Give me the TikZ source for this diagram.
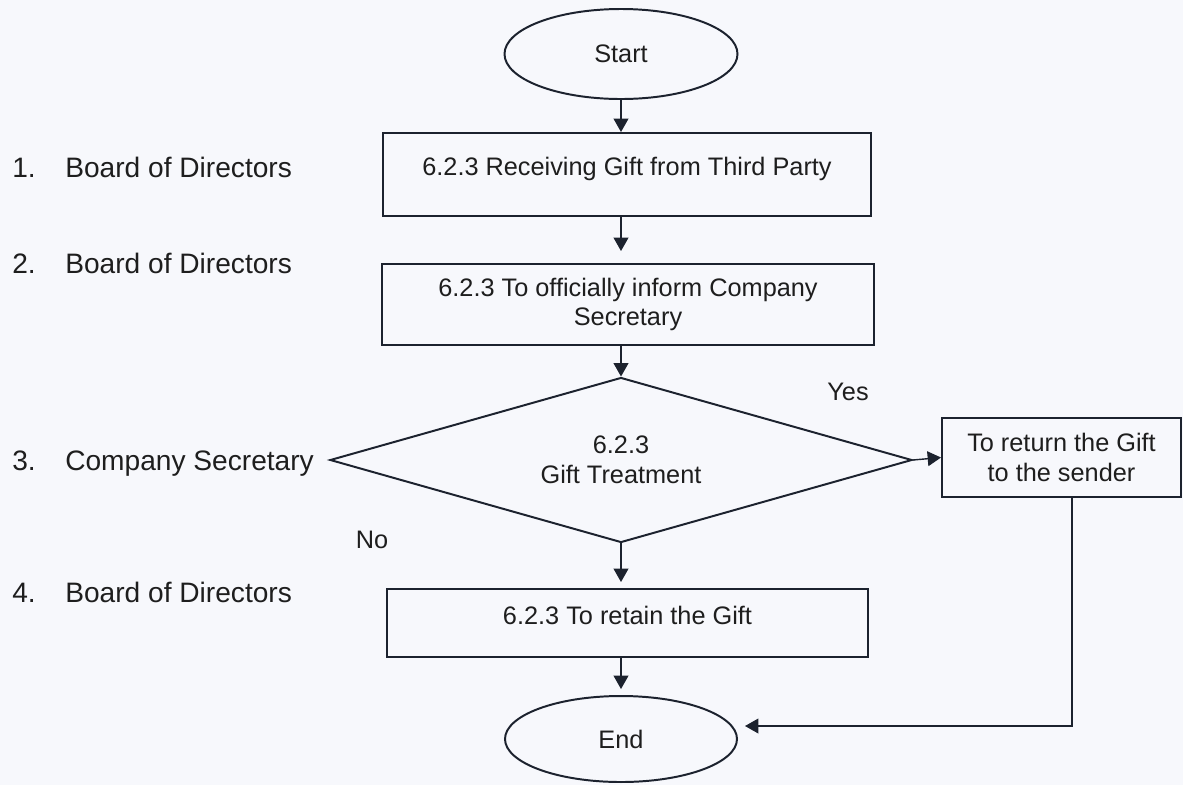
\documentclass[tikz,border=0pt]{standalone}
\usepackage{fontspec}
\setmainfont{Liberation Sans}
\usepackage{xcolor}
\usetikzlibrary{shapes.geometric,arrows.meta}
\definecolor{paper}{RGB}{247,248,252}
\definecolor{ink}{RGB}{28,34,46}
\definecolor{txt}{RGB}{30,30,30}
\newcommand{\pxu}{0.025cm}
\tikzset{
	flowline/.style={draw=ink, line width=1.4pt},
	procbox/.style={flowline, rectangle, inner sep=0pt, align=center, text=txt,
		font=\fontsize{18}{21}\selectfont},
	upperbox/.style={procbox, text height=13pt, text depth=11.5pt},
	termin/.style={flowline, ellipse, inner sep=0pt, text=txt,
		font=\fontsize{18}{21}\selectfont},
	decide/.style={flowline, diamond, aspect=3.5, inner sep=0pt, align=center, text=txt,
		font=\fontsize{18}{21.5}\selectfont},
	flowarrow/.style={draw=ink, line width=1pt, -{Triangle[length=9.5pt,width=10.5pt]}},
	rolelabel/.style={anchor=base west, inner sep=0pt, text=txt,
		font=\fontsize{20}{24}\selectfont},
	answer/.style={inner sep=0pt, text=txt, font=\fontsize{18}{21}\selectfont}
}

\begin{document}
\begin{tikzpicture}[x=\pxu, y=-\pxu]
	\fill[paper] (0,0) rectangle (1183,785);
	\useasboundingbox (0,0) rectangle (1183,785);
	
	% roles on the left
	\node[rolelabel] (role1) at (12,177) {\makebox[1.325cm][l]{1.}Board of Directors};
	\node[rolelabel] (role2) at (12,273) {\makebox[1.325cm][l]{2.}Board of Directors};
	\node[rolelabel] (role3) at (12,470) {\makebox[1.325cm][l]{3.}Company Secretary};
	\node[rolelabel] (role4) at (12,602) {\makebox[1.325cm][l]{4.}Board of Directors};
	
	% flow
	\coordinate (axis) at (621,0);
	\node[termin, minimum width=233*\pxu, minimum height=90*\pxu] (start) at (621,54) {Start};
	\node[upperbox, minimum width=488*\pxu, minimum height=83*\pxu] (receive) at (627,174.5) {6.2.3 Receiving Gift from Third Party};
	\node[procbox, minimum width=492*\pxu, minimum height=81*\pxu] (inform) at (628,304.5) {6.2.3 To officially inform Company\\Secretary};
	\node[decide, minimum width=582*\pxu, minimum height=165*\pxu] (treat) at (621,460) {6.2.3\\Gift Treatment};
	\node[procbox, minimum width=239*\pxu, minimum height=79*\pxu] (giveback) at (1061.5,457.5) {To return the Gift\\to the sender};
	\node[upperbox, minimum width=481*\pxu, minimum height=68*\pxu] (retain) at (627.5,623) {6.2.3 To retain the Gift};
	\node[termin, minimum width=232*\pxu, minimum height=86*\pxu] (end) at (621,739) {End};
	
	\node[answer] (yes) at (848,392) {Yes};
	\node[answer] (no) at (372,540) {No};
	
	\draw[flowarrow] (start.south) -- (axis |- receive.north);
	\draw[flowarrow, shorten >=0.3cm] (axis |- receive.south) -- (axis |- inform.north);
	\draw[flowarrow] (axis |- inform.south) -- (treat.north);
	\draw[flowarrow, shorten >=0.15cm] (treat.south) -- (axis |- retain.north);
	\draw[flowarrow, shorten >=0.15cm] (axis |- retain.south) -- (end.north);
	\draw[flowarrow] (treat.east) -- (giveback.west);
	\draw[flowarrow] ([xshift=0.26cm]giveback.south) |- ([xshift=0.175cm,yshift=0.325cm]end.east);
\end{tikzpicture}
\end{document}
